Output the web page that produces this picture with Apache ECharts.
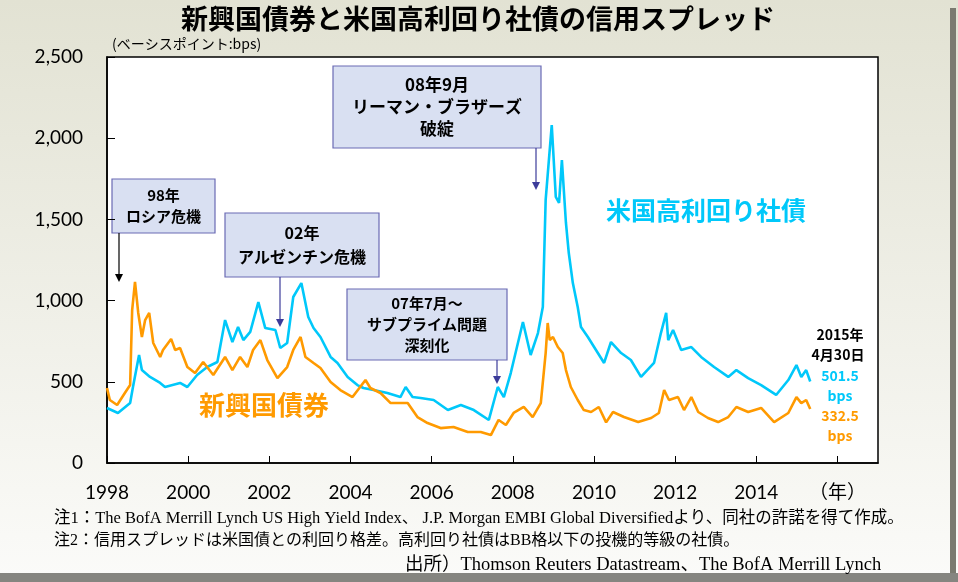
<!DOCTYPE html>
<html>
<head>
<meta charset="utf-8">
<script src="https://cdn.jsdelivr.net/npm/echarts@6/dist/echarts.min.js"></script>
<style>
  html, body { margin: 0; padding: 0; }
  #main { width: 958px; height: 582px; }
</style>
</head>
<body>
<div id="main"></div>
<script>
// 米国高利回り社債 (年, bps)
var hyYears = [1998.00, 1998.27, 1998.57, 1998.64, 1998.79, 1998.86, 1999.06, 1999.31, 1999.43, 1999.80,
  1999.98, 2000.22, 2000.47, 2000.72, 2000.91, 2001.09, 2001.23, 2001.36, 2001.53, 2001.73,
  2001.90, 2002.15, 2002.27, 2002.44, 2002.59, 2002.79, 2002.96, 2003.09, 2003.26, 2003.51,
  2003.68, 2003.93, 2004.17, 2004.32, 2004.57, 2004.91, 2005.23, 2005.36, 2005.53, 2005.73,
  2006.05, 2006.40, 2006.72, 2007.04, 2007.41, 2007.63, 2007.78, 2007.95, 2008.25, 2008.44,
  2008.62, 2008.74, 2008.81, 2008.89, 2008.96, 2009.06, 2009.14, 2009.21, 2009.31, 2009.38,
  2009.48, 2009.60, 2009.68, 2009.85, 2010.05, 2010.25, 2010.42, 2010.67, 2010.91, 2011.16,
  2011.48, 2011.65, 2011.78, 2011.83, 2011.95, 2012.15, 2012.40, 2012.64, 2012.96, 2013.31,
  2013.51, 2013.80, 2014.12, 2014.49, 2014.79, 2014.99, 2015.11, 2015.23, 2015.33];
var hySpread = [339, 308, 370, 468, 665, 572, 530, 493, 468, 493,
  468, 542, 591, 622, 880, 745, 837, 757, 807, 991,
  831, 819, 708, 739, 1022, 1108, 899, 831, 776, 653,
  616, 530, 480, 462, 449, 431, 406, 468, 406, 400,
  388, 326, 357, 326, 265, 468, 406, 554, 868, 665,
  800, 960, 1620, 1866, 2081, 1638, 1601, 1866, 1478, 1293,
  1108, 961, 837, 776, 696, 616, 745, 677, 634, 530,
  616, 800, 924, 757, 819, 696, 714, 653, 591, 530,
  572, 523, 480, 419, 511, 603, 530, 572, 501.5];

// 新興国債券 (年, bps)
var emYears = [1998.00, 1998.07, 1998.25, 1998.44, 1998.57, 1998.62, 1998.69, 1998.77, 1998.86, 1998.94,
  1999.04, 1999.14, 1999.31, 1999.38, 1999.58, 1999.68, 1999.80, 1999.98, 2000.17, 2000.37,
  2000.62, 2000.91, 2001.09, 2001.28, 2001.46, 2001.60, 2001.78, 2001.95, 2002.20, 2002.44,
  2002.59, 2002.77, 2002.89, 2003.09, 2003.26, 2003.51, 2003.75, 2004.05, 2004.37, 2004.49,
  2004.74, 2004.99, 2005.41, 2005.65, 2005.90, 2006.22, 2006.54, 2006.89, 2007.21, 2007.46,
  2007.65, 2007.83, 2008.02, 2008.27, 2008.49, 2008.69, 2008.81, 2008.86, 2008.91, 2008.99,
  2009.11, 2009.23, 2009.31, 2009.43, 2009.60, 2009.75, 2009.93, 2010.12, 2010.30, 2010.47,
  2010.74, 2011.09, 2011.41, 2011.60, 2011.73, 2011.85, 2012.07, 2012.22, 2012.40, 2012.57,
  2012.81, 2013.06, 2013.31, 2013.51, 2013.80, 2014.12, 2014.44, 2014.79, 2014.99, 2015.11,
  2015.23, 2015.33];
var emSpread = [462, 388, 357, 431, 480, 942, 1115, 924, 776, 880,
  924, 739, 653, 696, 764, 696, 708, 591, 554, 622,
  542, 653, 572, 653, 591, 696, 757, 634, 523, 591,
  696, 776, 653, 616, 585, 499, 449, 406, 511, 462,
  431, 369, 369, 283, 246, 215, 222, 191, 191, 172,
  265, 234, 308, 345, 283, 369, 677, 862, 757, 776,
  714, 677, 572, 468, 388, 326, 314, 345, 250, 314,
  283, 252, 277, 308, 449, 388, 406, 326, 406, 314,
  277, 252, 283, 345, 314, 339, 252, 308, 406, 369,
  388, 332.5];

var yTicks = [0, 500, 1000, 1500, 2000, 2500];

var hyColor = '#00c8fa';
var emColor = '#ff9a00';
var boxFill = '#d9e0f2';
var boxLine = '#6a6ab4';
var arrowBlue = '#3c3c9a';

function pairs(xs, ys) {
  var out = [];
  for (var i = 0; i < xs.length; i++) out.push([xs[i], ys[i]]);
  return out;
}

function box(x, y, w, h, text, size, lh) {
  return {
    type: 'group',
    children: [
      { type: 'rect', shape: { x: x, y: y, width: w, height: h },
        style: { fill: boxFill, stroke: boxLine, lineWidth: 1.2 } },
      { type: 'text', x: x + w / 2, y: y + h / 2,
        style: { text: text, fill: '#000', font: 'bold ' + size + 'px "Noto Sans CJK JP"',
                 align: 'center', verticalAlign: 'middle', lineHeight: lh } }
    ]
  };
}

function arrow(x, y1, y2, color) {
  return {
    type: 'group',
    children: [
      { type: 'line', shape: { x1: x, y1: y1, x2: x, y2: y2 - 6 },
        style: { stroke: color, lineWidth: 1.2 } },
      { type: 'polygon', shape: { points: [[x - 4, y2 - 8], [x + 4, y2 - 8], [x, y2]] },
        style: { fill: color } }
    ]
  };
}

function label(x, y, text, size, color) {
  return { type: 'text', x: x, y: y,
    style: { text: text, fill: color, font: 'bold ' + size + 'px "Noto Sans CJK JP"',
             align: 'center', verticalAlign: 'middle' } };
}

function note(x, y, text, size) {
  return { type: 'text', x: x, y: y,
    style: { text: text, fill: '#000', font: size + 'px "Liberation Serif", "Noto Sans CJK JP"',
             align: 'left', verticalAlign: 'middle' } };
}

var myChart = echarts.init(document.getElementById('main'));
var option = {
  backgroundColor: {
    type: 'linear', x: 0, y: 0, x2: 0, y2: 1,
    colorStops: [{ offset: 0, color: '#e2e2d3' }, { offset: 1, color: '#fbfbf9' }]
  },
  animation: false,
  grid: {
    left: 107, top: 57, right: 80, bottom: 119,
    show: true, backgroundColor: '#ffffff', borderColor: '#000', borderWidth: 1.5
  },
  xAxis: {
    type: 'value',
    min: 1998, max: 2017, interval: 2,
    axisLine: { show: true, lineStyle: { color: '#000', width: 1.5 } },
    axisTick: { show: true, inside: true, length: 7, lineStyle: { color: '#000' } },
    splitLine: { show: false },
    axisLabel: {
      margin: 20, fontSize: 19, color: '#000', fontFamily: 'Lato, "Noto Sans CJK JP"',
      showMaxLabel: false,
      formatter: function (v) {
        if (v === 2016) return '（年）';
        if (v === 2017) return '';
        return String(v);
      }
    }
  },
  yAxis: {
    type: 'value',
    min: yTicks[0], max: yTicks[yTicks.length - 1], interval: 500,
    axisLine: { show: true, lineStyle: { color: '#000', width: 1.5 } },
    axisTick: { show: true, inside: true, length: 8, lineStyle: { color: '#000' } },
    splitLine: { show: false },
    axisLabel: {
      margin: 24, fontSize: 19, color: '#000', fontFamily: 'Lato',
      formatter: function (v) { return v.toLocaleString('en-US'); }
    }
  },
  series: [
    {
      name: '米国高利回り社債', type: 'line', showSymbol: false,
      lineStyle: { color: hyColor, width: 2.6 },
      data: pairs(hyYears, hySpread)
    },
    {
      name: '新興国債券', type: 'line', showSymbol: false,
      lineStyle: { color: emColor, width: 2.6 },
      data: pairs(emYears, emSpread)
    }
  ],
  graphic: [
    // 右と下の影
    { type: 'rect', shape: { x: 950, y: 8, width: 6, height: 574 }, style: { fill: '#7a7a70' } },
    { type: 'rect', shape: { x: 0, y: 573, width: 958, height: 9 }, style: { fill: '#858580' } },
    { type: 'text', x: 478, y: 19,
      style: { text: '新興国債券と米国高利回り社債の信用スプレッド', fill: '#000',
               font: 'bold 27px "Noto Sans CJK JP"', align: 'center', verticalAlign: 'middle' } },
    { type: 'text', x: 112, y: 44,
      style: { text: '(ベーシスポイント:bps)', fill: '#000',
               font: '14px "Noto Sans CJK JP"', align: 'left', verticalAlign: 'middle' } },
    box(112, 179, 103, 54, '98年\nロシア危機', 15, 21),
    arrow(119, 233, 282, '#000'),
    box(225, 213, 154, 64, '02年\nアルゼンチン危機', 16, 24),
    arrow(280, 277, 327, arrowBlue),
    box(333, 66, 208, 82, '08年9月\nリーマン・ブラザーズ\n破綻', 17, 22),
    arrow(536, 148, 190, arrowBlue),
    box(347, 289, 160, 71, '07年7月～\nサブプライム問題\n深刻化', 15, 21),
    arrow(497, 360, 384, arrowBlue),
    label(706, 210, '米国高利回り社債', 25, hyColor),
    label(264, 405, '新興国債券', 26, emColor),
    label(840, 335, '2015年', 14, '#000'),
    label(838, 355, '4月30日', 14, '#000'),
    label(840, 376, '501.5', 14, hyColor),
    label(840, 396, 'bps', 14, hyColor),
    label(840, 416, '332.5', 14, emColor),
    label(840, 436, 'bps', 14, emColor),
    note(54, 519, '注1：The BofA Merrill Lynch US High Yield Index、 J.P. Morgan EMBI Global Diversifiedより、同社の許諾を得て作成。', 16.5),
    note(54, 541, '注2：信用スプレッドは米国債との利回り格差。高利回り社債はBB格以下の投機的等級の社債。', 16),
    note(405, 565, '出所）Thomson Reuters Datastream、The BofA Merrill Lynch', 18.5)
  ]
};
option && myChart.setOption(option);
</script>
</body>
</html>
